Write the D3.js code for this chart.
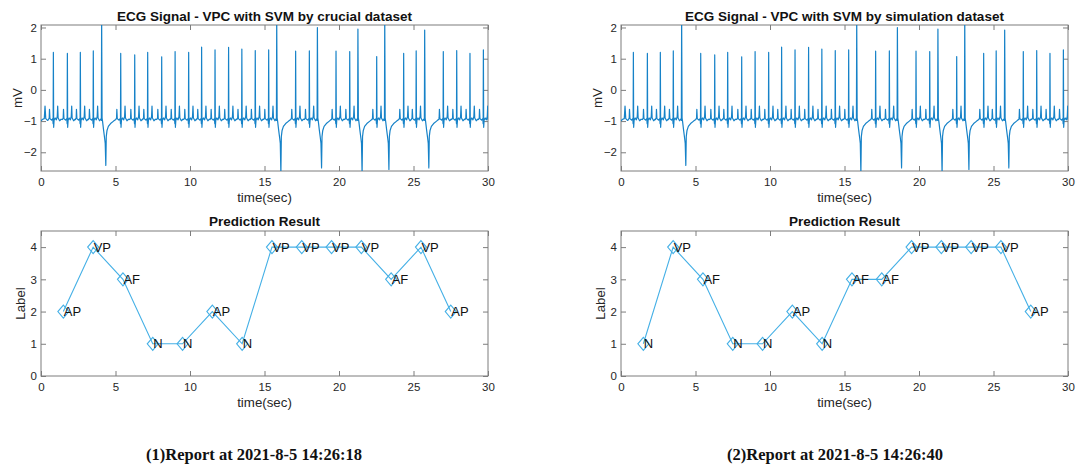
<!DOCTYPE html>
<html><head><meta charset="utf-8">
<script src="https://cdn.jsdelivr.net/npm/d3@7"></script>
<style>
body{margin:0;background:#fff;}
</style>
</head><body>
<svg id="c" width="1078" height="467" font-family='"Liberation Sans",Arial,Helvetica,sans-serif'></svg>
<script>
// ---- tick labels ----
const timeTicks = [0, 5, 10, 15, 20, 25, 30];
const mvTicks = [-2, -1, 0, 1, 2];
const labelTicks = [0, 1, 2, 3, 4];

// ---- ECG signal ----
const normalBeatTimes = [0.83, 1.77, 2.64, 3.51, 5.35, 6.29, 7.16, 8.1, 9.0, 9.91, 10.78, 11.68, 12.59, 13.48, 14.38, 15.28, 17.09, 18.01, 19.8, 20.72, 22.53, 24.34, 25.18, 27.0, 27.9, 28.79, 29.69];
const normalBeatPeaks = [1.2, 1.17, 1.2, 1.25, 1.17, 1.12, 1.2, 1.06, 1.23, 1.2, 1.37, 1.28, 1.36, 1.31, 1.26, 1.28, 1.24, 1.25, 1.24, 1.23, 1.07, 1.17, 1.25, 1.23, 1.26, 1.17, 1.28];
const vpcTimes = [4.07, 15.82, 18.55, 21.27, 23.07, 25.75];
const vpcPeaks = [2.3, 2.3, 2.0, 1.95, 2.3, 1.92];
const vpcTroughs = [-2.42, -2.7, -2.5, -2.7, -2.55, -2.5];
// beat shapes (time offset from R peak in s, value in mV; null = beat's own peak / trough)
const normalShapeOffsets = [-0.33, -0.28, -0.26, -0.23, -0.12, -0.04, -0.015, 0, 0.02, 0.05, 0.12, 0.2, 0.26, 0.29, 0.32, 0.42, 0.52];
const normalShapeValues  = [-0.95, -0.9, -0.62, -0.92, -0.97, -0.92, -1.08, null, -1.2, -0.97, -0.9, -0.96, -0.85, -0.52, -0.9, -0.99, -0.94];
const vpcShapeOffsets = [-0.05, -0.02, 0, 0.03, 0.06, 0.12, 0.2, 0.24, 0.28, 0.31, 0.36, 0.45, 0.6, 0.8, 0.95];
const vpcShapeValues  = [-0.93, -0.98, "peak", -0.9, -1.0, -1.25, -1.55, -1.72, "trough", -1.5, -1.3, -1.17, -1.08, -1.0, -0.95];
const leadInTimes  = [0, 0.08, 0.22, 0.27, 0.32, 0.45];
const leadInValues = [-1.0, -0.95, -0.92, -0.52, -0.92, -0.98];
const endTime = 30, endValue = -0.95;

// ---- prediction results ----
const windowTimes = [1.5, 3.5, 5.5, 7.5, 9.5, 11.5, 13.5, 15.5, 17.5, 19.5, 21.5, 23.5, 25.5, 27.5];
const crucialLabels = ["AP", "VP", "AF", "N", "N", "AP", "N", "VP", "VP", "VP", "VP", "AF", "VP", "AP"];
const crucialValues = [2, 4, 3, 1, 1, 2, 1, 4, 4, 4, 4, 3, 4, 2];
const simulationLabels = ["N", "VP", "AF", "N", "N", "AP", "N", "AF", "AF", "VP", "VP", "VP", "VP", "AP"];
const simulationValues = [1, 4, 3, 1, 1, 2, 1, 3, 3, 4, 4, 4, 4, 2];

const ecgTitles = ["ECG Signal - VPC with SVM by crucial dataset", "ECG Signal - VPC with SVM by simulation dataset"];
const captions = ["(1)Report at 2021-8-5 14:26:18", "(2)Report at 2021-8-5 14:26:40"];

function buildEcg() {
  const pts = leadInTimes.map((t, i) => [t, leadInValues[i]]);
  normalBeatTimes.forEach((t, i) => {
    normalShapeOffsets.forEach((o, j) => {
      const v = normalShapeValues[j] === null ? normalBeatPeaks[i] : normalShapeValues[j];
      pts.push([t + o, v]);
    });
  });
  vpcTimes.forEach((t, i) => {
    vpcShapeOffsets.forEach((o, j) => {
      let v = vpcShapeValues[j];
      if (v === "peak") v = vpcPeaks[i];
      else if (v === "trough") v = vpcTroughs[i];
      pts.push([t + o, v]);
    });
  });
  pts.push([endTime, endValue]);
  pts.sort((a, b) => a[0] - b[0]);
  return pts;
}
const ecg = buildEcg();

const svg = d3.select("#c");
svg.append("rect").attr("width", 1078).attr("height", 467).attr("fill", "#fff");

const W = 447;
const boxColor = "#7d7d7d";
const textColor = "#262626";
const sans = '"Liberation Sans",Arial,Helvetica,sans-serif';
let clipId = 0;

function panel(ox, oy, h, yDomain, yTicks, title, yLabel, yLabelX, titleY) {
  const g = svg.append("g").attr("transform", `translate(${ox},${oy})`);
  const x = d3.scaleLinear().domain([0, 30]).range([0, W]);
  const y = d3.scaleLinear().domain(yDomain).range([h, 0]);
  const fmt = d3.format("d");
  const styleAxis = sel => {
    sel.select(".domain").remove();
    sel.selectAll(".tick line").attr("stroke", boxColor);
    sel.selectAll(".tick text").attr("fill", textColor).attr("font-size", 11.5)
      .attr("font-family", sans);
  };
  g.append("g").attr("transform", `translate(0,${h})`)
    .call(d3.axisBottom(x).tickValues(timeTicks).tickFormat(fmt).tickSize(-5).tickPadding(7)).call(styleAxis);
  g.append("g")
    .call(d3.axisTop(x).tickValues(timeTicks).tickSize(-5).tickFormat("")).call(styleAxis);
  g.append("g")
    .call(d3.axisLeft(y).tickValues(yTicks).tickFormat(fmt).tickSize(-5).tickPadding(4)).call(styleAxis);
  g.append("g").attr("transform", `translate(${W},0)`)
    .call(d3.axisRight(y).tickValues(yTicks).tickSize(-5).tickFormat("")).call(styleAxis);
  g.append("rect").attr("width", W).attr("height", h)
    .attr("fill", "none").attr("stroke", boxColor).attr("stroke-width", 1);
  g.append("text").attr("x", W / 2).attr("y", titleY).attr("text-anchor", "middle")
    .attr("font-weight", "bold").attr("font-size", 13.5).attr("fill", "#111").text(title);
  g.append("text").attr("x", W / 2).attr("y", h + 31).attr("text-anchor", "middle")
    .attr("font-size", 13.3).attr("fill", textColor).text("time(sec)");
  g.append("text").attr("transform", `translate(${yLabelX},${h / 2}) rotate(-90)`)
    .attr("text-anchor", "middle").attr("dy", "0.35em")
    .attr("font-size", 13.3).attr("fill", textColor).text(yLabel);
  const id = "clip" + (clipId++);
  g.append("clipPath").attr("id", id).append("rect").attr("width", W).attr("height", h);
  return { g, x, y, id };
}

function ecgPanel(ox, title) {
  const p = panel(ox, 25, 146, [-2.6, 2.08], mvTicks, title, "mV", -24, -4);
  const line = d3.line().x(d => p.x(d[0])).y(d => p.y(d[1]));
  p.g.append("path").attr("clip-path", `url(#${p.id})`).datum(ecg)
    .attr("d", line).attr("fill", "none").attr("stroke", "#1682c8")
    .attr("stroke-width", 1.2).attr("stroke-linejoin", "round");
}

function predPanel(ox, labels, values) {
  const p = panel(ox, 231, 145, [0, 4.5], labelTicks, "Prediction Result", "Label", -21, -5);
  const data = windowTimes.map((t, i) => ({ t, v: values[i], lab: labels[i] }));
  const col = "#45b0e6";
  const line = d3.line().x(d => p.x(d.t)).y(d => p.y(d.v));
  p.g.append("path").datum(data).attr("d", line).attr("fill", "none")
    .attr("stroke", col).attr("stroke-width", 1.1);
  p.g.selectAll(".mk").data(data).enter().append("path")
    .attr("transform", d => `translate(${p.x(d.t)},${p.y(d.v)})`)
    .attr("d", "M0,-6.5L5.5,0L0,6.5L-5.5,0Z").attr("fill", "none")
    .attr("stroke", col).attr("stroke-width", 1.1);
  p.g.selectAll(".lb").data(data).enter().append("text")
    .attr("x", d => p.x(d.t) + 0.5).attr("y", d => p.y(d.v)).attr("dy", "0.36em")
    .attr("font-size", 13).attr("fill", "#111").text(d => d.lab);
}

ecgPanel(41, ecgTitles[0]);
ecgPanel(621, ecgTitles[1]);
predPanel(41, crucialLabels, crucialValues);
predPanel(621, simulationLabels, simulationValues);

[254, 835].forEach((cx, i) => {
  svg.append("text").attr("x", cx).attr("y", 460).attr("text-anchor", "middle")
    .attr("font-family", '"Liberation Serif","Times New Roman",serif')
    .attr("font-weight", "bold").attr("font-size", 16.5).attr("fill", "#111")
    .text(captions[i]);
});
</script>
</body></html>
